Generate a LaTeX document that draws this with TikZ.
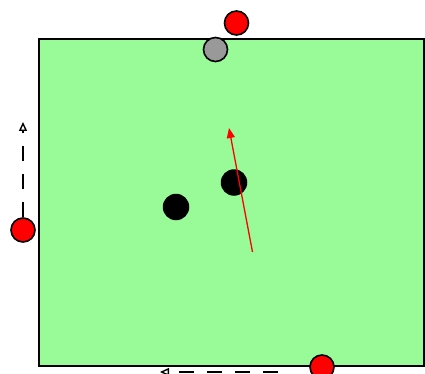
\documentclass[tikz,border=0pt]{standalone}
\usetikzlibrary{arrows.meta}
\definecolor{fieldgreen}{HTML}{98FB98}
\definecolor{ballred}{HTML}{FF0000}
\definecolor{ballgray}{HTML}{999999}

\begin{document}
\begin{tikzpicture}[x=1pt, y=-1pt,
  ball/.style={circle, draw=black, line width=1.6pt, inner sep=0pt, minimum size=24pt},
  redball/.style={ball, fill=ballred},
  grayball/.style={ball, fill=ballgray},
  blackball/.style={circle, fill=black, inner sep=0pt, minimum size=26.5pt},
  velocity/.style={line width=1.6pt, dash pattern=on 15pt off 13pt, -{Triangle[open, length=9pt, width=8pt, line width=1.4pt]}},
  shot/.style={ballred, line width=1.3pt, -{Triangle[length=10pt, width=8pt]}}]
  \useasboundingbox (0,0) rectangle (425,374);

  % Field
  \draw[fill=fieldgreen, line width=2pt] (39,39) rectangle (424,366);

  % Balls on the field
  \node[blackball] (blackA) at (176,207) {};
  \node[blackball] (blackB) at (234,182.5) {};
  \node[grayball] (cue) at (215.5,49.5) {};

  % Balls at the border
  \node[redball] (redTop) at (236.5,23) {};
  \node[redball] (redLeft) at (23,230) {};
  \node[redball] (redBottom) at (322,367) {};

  % Shot direction
  \coordinate (shotStart) at (252.5,252);
  \coordinate (shotEnd) at (229,128);
  \draw[shot] (shotStart) -- (shotEnd);

  % Velocities
  \coordinate (velLeft) at (23,122);
  \draw[velocity] (redLeft) -- (velLeft);
  \coordinate (velBottomStart) at (278,372);
  \coordinate (velBottom) at (160,372);
  \draw[velocity] (velBottomStart) -- (velBottom);
\end{tikzpicture}
\end{document}
